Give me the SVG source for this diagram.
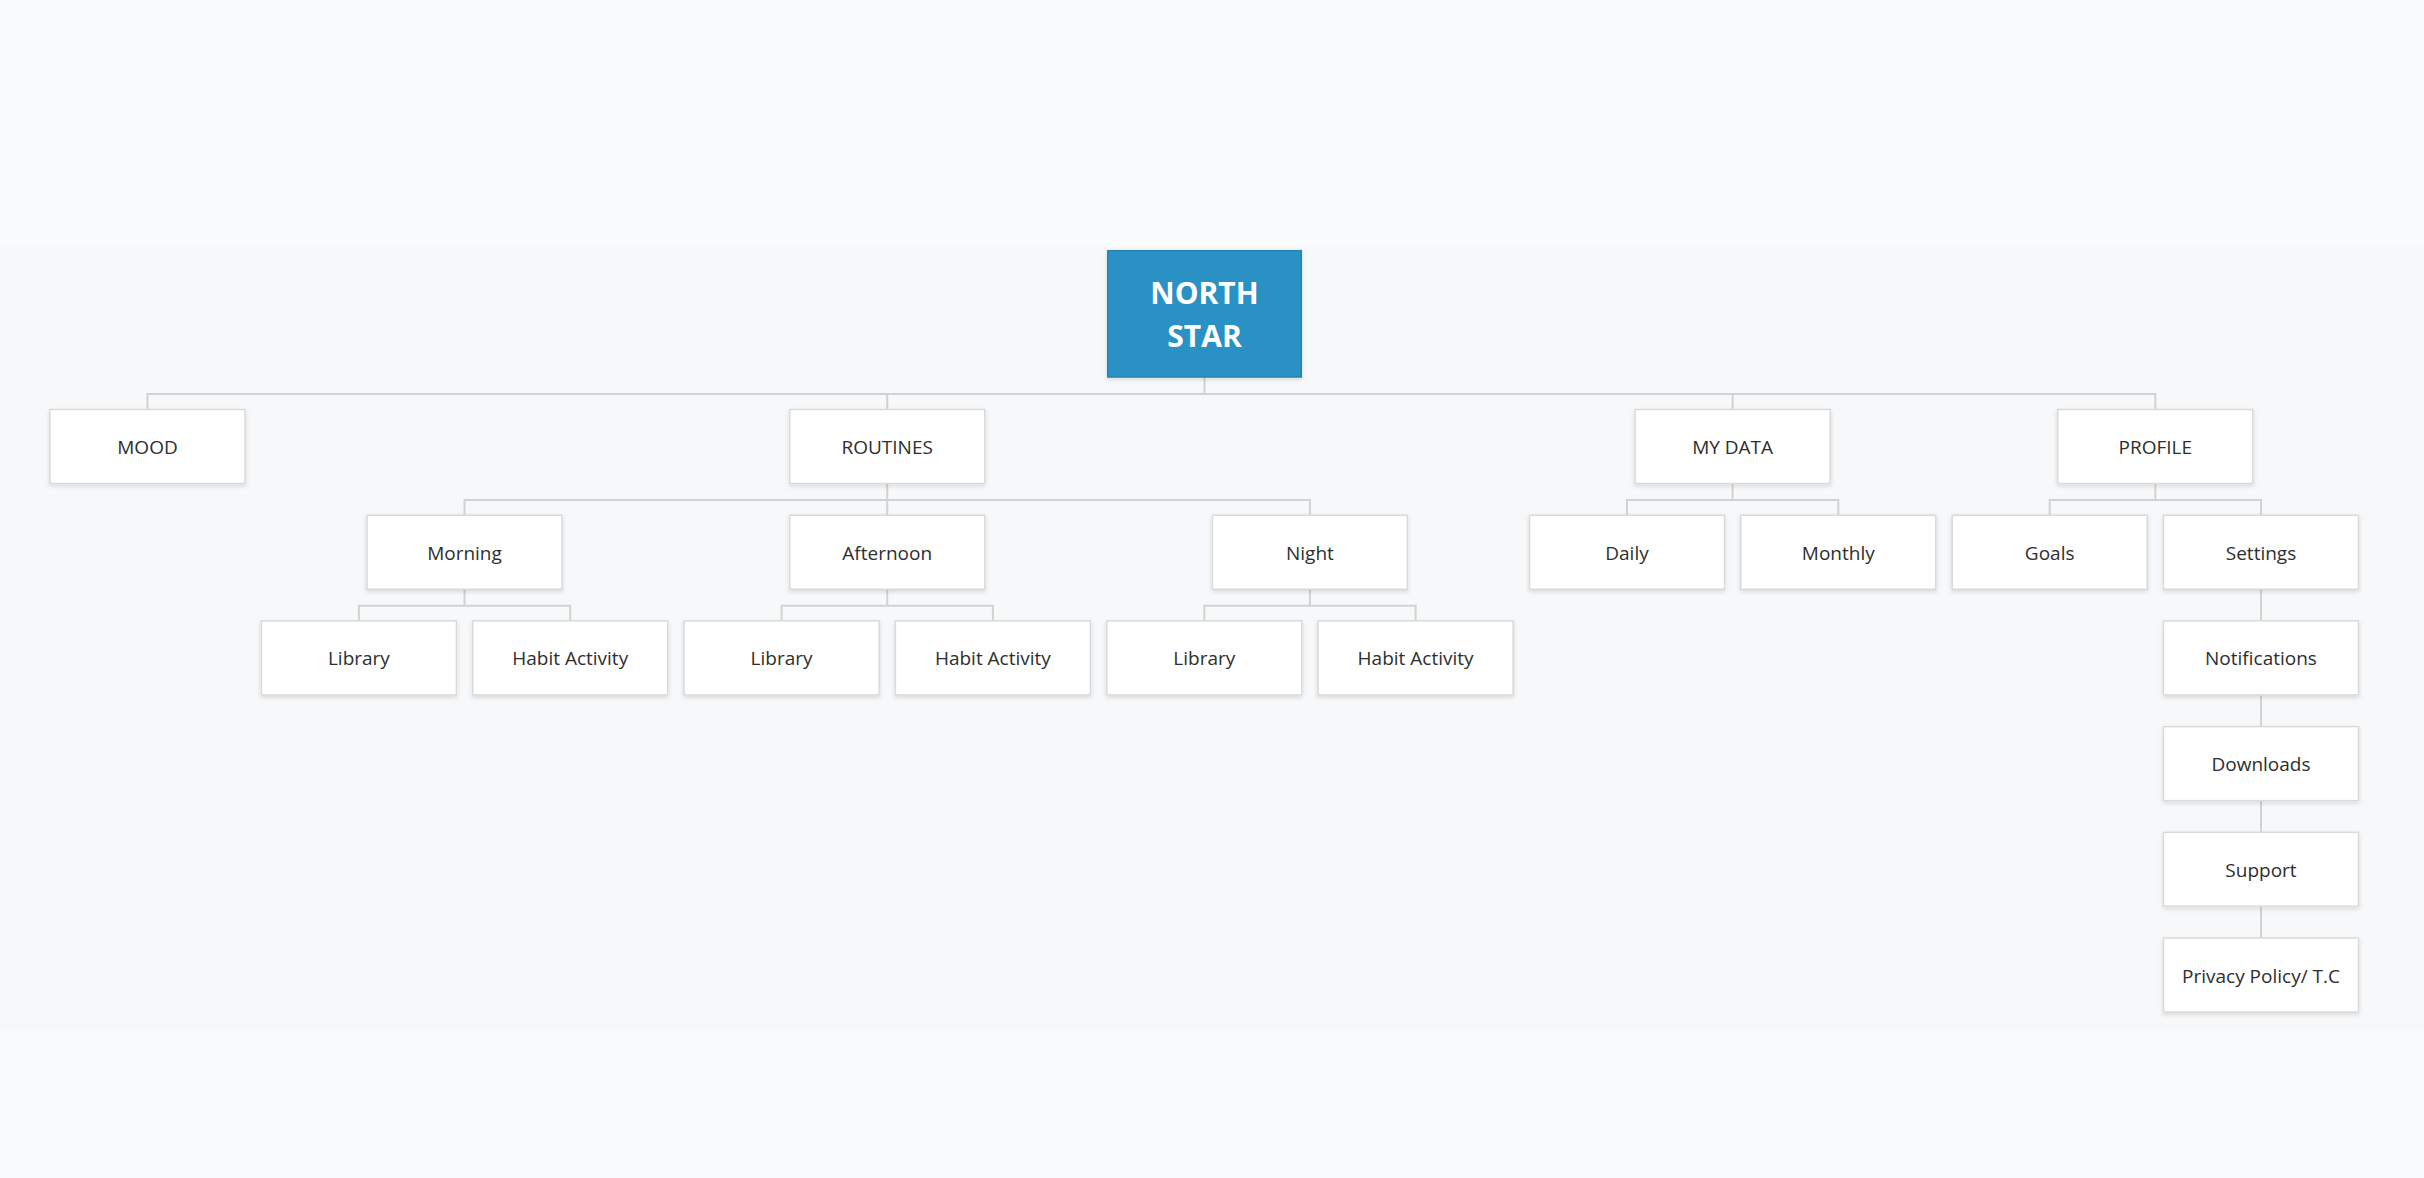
<svg xmlns="http://www.w3.org/2000/svg" width="2424" height="1178" viewBox="0 0 2424 1178">
<defs>
<filter id="sh" x="-10%" y="-20%" width="120%" height="150%">
<feDropShadow dx="0" dy="2" stdDeviation="2" flood-color="#000" flood-opacity="0.13"/>
</filter>
<style>
.box{fill:#ffffff;stroke:#dadada;stroke-width:1.5;filter:url(#sh)}
.root{fill:#2b91c5;stroke:#2783b3;stroke-width:1.5;filter:url(#sh)}
.lbl{font-family:"Open Sans","Noto Sans","Liberation Sans",sans-serif;font-size:19px;fill:#2e2e2e;text-anchor:middle}
.rlbl{font-family:"Open Sans","Noto Sans","Liberation Sans",sans-serif;font-size:30px;font-weight:bold;fill:#ffffff;text-anchor:middle}
.con{fill:none;stroke:#d2d2d2;stroke-width:2}
</style>
</defs>
<rect x="0" y="0" width="2424" height="1178" fill="#fafbfd"/>
<rect x="0" y="247" width="2424" height="784" fill="#f7f8fa"/>

<g id="connectors" class="con">
<path d="M1204.5 377 V394"/>
<path d="M147.5 409.5 V394 H2155.3 V409.5"/>
<path d="M887.2 394 V409.5"/>
<path d="M1732.6 394 V409.5"/>
<path d="M887.2 483.5 V500"/>
<path d="M464.5 515.2 V500 H1309.9 V515.2"/>
<path d="M887.2 500 V515.2"/>
<path d="M464.5 589.2 V605.7"/>
<path d="M358.9 620.9 V605.7 H570.2 V620.9"/>
<path d="M887.2 589.2 V605.7"/>
<path d="M781.6 620.9 V605.7 H992.9 V620.9"/>
<path d="M1309.9 589.2 V605.7"/>
<path d="M1204.3 620.9 V605.7 H1415.6 V620.9"/>
<path d="M1732.6 483.5 V500"/>
<path d="M1627 515.2 V500 H1838.3 V515.2"/>
<path d="M2155.3 483.5 V500"/>
<path d="M2049.7 515.2 V500 H2261 V515.2"/>
<path d="M2261 589.2 V620.9"/>
<path d="M2261 694.9 V726.6"/>
<path d="M2261 800.6 V832.3"/>
<path d="M2261 906.3 V938"/>
</g>

<g id="north-star"><rect class="root" x="1107.7" y="250.7" width="193.6" height="126.3"/><text class="rlbl" x="1204.5" y="304">NORTH</text><text class="rlbl" x="1204.5" y="347.3">STAR</text></g>

<g id="mood"><rect class="box" x="50" y="409.5" width="195" height="74"/><text class="lbl" x="147.5" y="454">MOOD</text></g>
<g id="routines"><rect class="box" x="789.7" y="409.5" width="195" height="74"/><text class="lbl" x="887.2" y="454">ROUTINES</text></g>
<g id="my-data"><rect class="box" x="1635.1" y="409.5" width="195" height="74"/><text class="lbl" x="1732.6" y="454">MY DATA</text></g>
<g id="profile"><rect class="box" x="2057.8" y="409.5" width="195" height="74"/><text class="lbl" x="2155.3" y="454">PROFILE</text></g>

<g id="morning"><rect class="box" x="367" y="515.2" width="195" height="74"/><text class="lbl" x="464.5" y="559.7">Morning</text></g>
<g id="afternoon"><rect class="box" x="789.7" y="515.2" width="195" height="74"/><text class="lbl" x="887.2" y="559.7">Afternoon</text></g>
<g id="night"><rect class="box" x="1212.4" y="515.2" width="195" height="74"/><text class="lbl" x="1309.9" y="559.7">Night</text></g>
<g id="daily"><rect class="box" x="1529.5" y="515.2" width="195" height="74"/><text class="lbl" x="1627" y="559.7">Daily</text></g>
<g id="monthly"><rect class="box" x="1740.8" y="515.2" width="195" height="74"/><text class="lbl" x="1838.3" y="559.7">Monthly</text></g>
<g id="goals"><rect class="box" x="1952.2" y="515.2" width="195" height="74"/><text class="lbl" x="2049.7" y="559.7">Goals</text></g>
<g id="settings"><rect class="box" x="2163.5" y="515.2" width="195" height="74"/><text class="lbl" x="2261" y="559.7">Settings</text></g>

<g id="morning-library"><rect class="box" x="261.4" y="620.9" width="195" height="74"/><text class="lbl" x="358.9" y="665.4">Library</text></g>
<g id="morning-habit"><rect class="box" x="472.7" y="620.9" width="195" height="74"/><text class="lbl" x="570.2" y="665.4">Habit Activity</text></g>
<g id="afternoon-library"><rect class="box" x="684.1" y="620.9" width="195" height="74"/><text class="lbl" x="781.6" y="665.4">Library</text></g>
<g id="afternoon-habit"><rect class="box" x="895.4" y="620.9" width="195" height="74"/><text class="lbl" x="992.9" y="665.4">Habit Activity</text></g>
<g id="night-library"><rect class="box" x="1106.8" y="620.9" width="195" height="74"/><text class="lbl" x="1204.3" y="665.4">Library</text></g>
<g id="night-habit"><rect class="box" x="1318.1" y="620.9" width="195" height="74"/><text class="lbl" x="1415.6" y="665.4">Habit Activity</text></g>

<g id="notifications"><rect class="box" x="2163.5" y="620.9" width="195" height="74"/><text class="lbl" x="2261" y="665.4">Notifications</text></g>
<g id="downloads"><rect class="box" x="2163.5" y="726.6" width="195" height="74"/><text class="lbl" x="2261" y="771.1">Downloads</text></g>
<g id="support"><rect class="box" x="2163.5" y="832.3" width="195" height="74"/><text class="lbl" x="2261" y="876.8">Support</text></g>
<g id="privacy"><rect class="box" x="2163.5" y="938" width="195" height="74"/><text class="lbl" x="2261" y="982.5">Privacy Policy/ T.C</text></g>
</svg>
